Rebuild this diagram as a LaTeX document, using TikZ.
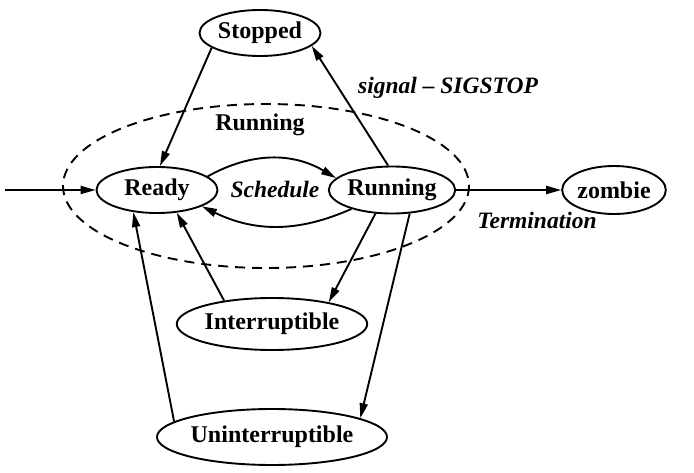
\documentclass[tikz,border=0pt]{standalone}
\usepackage{fontspec}
\setmainfont{Liberation Serif}
\usetikzlibrary{arrows.meta,shapes.geometric}

\begin{document}
\begin{tikzpicture}[>={Triangle[length=15pt,width=8pt]},x=1pt,y=-1pt,line width=1.9pt,
	state/.style={draw,ellipse,inner sep=0pt,font=\fontsize{24}{28}\selectfont\bfseries},
	lbl/.style={font=\fontsize{23.5}{28}\selectfont\bfseries\itshape}]
			\useasboundingbox (0,0) rectangle (694,473);
			% Running group
			\draw[dashed,dash pattern=on 10pt off 7pt] (266,186) ellipse (203 and 82);
			\node[font=\fontsize{24}{28}\selectfont\bfseries] (grp) at (260,125) {Running};
			% States
			\node[state,minimum width=121pt,minimum height=46pt] (stopped) at (260,33) {Stopped};
			\node[state,minimum width=121pt,minimum height=46pt] (ready) at (157,190) {Ready};
			\node[state,minimum width=120pt,minimum height=47pt] (running) at (392,190) {Running};
			\node[state,minimum width=75pt,minimum height=48pt] (zombie) at (614,190) {zombie};
			\node[state,minimum width=170pt,minimum height=52pt] (interr) at (272,324) {Interruptible};
			\node[state,minimum width=202pt,minimum height=56pt] (uninterr) at (272,437) {Uninterruptible};
			\coordinate (start) at (5,190);
			% Transitions
			\draw[->] (start) -- (ready.west);
			\draw[->] (stopped.197) -- (ready.83);
			\draw[->] (running.99) -- (stopped.346);
			\draw[->] (ready.15) to[bend left=30] (running.168);
			\draw[->] (running.205) to[bend left=25] (ready.340);
			\draw[->] (running.east) -- (zombie.west);
			\draw[->] (running.235) -- (interr.21);
			\draw[->] (interr.154) -- (ready.311);
			\draw[->] (running.307) -- (uninterr.12);
			\draw[->] (uninterr.171) -- (ready.223);
			% Labels
			\node[lbl] (sched) at (275,189) {Schedule};
			\node[lbl] (sig) at (448,88) {signal -- SIGSTOP};
			\node[lbl] (term) at (537,220) {Termination};
		\end{tikzpicture}
\end{document}
